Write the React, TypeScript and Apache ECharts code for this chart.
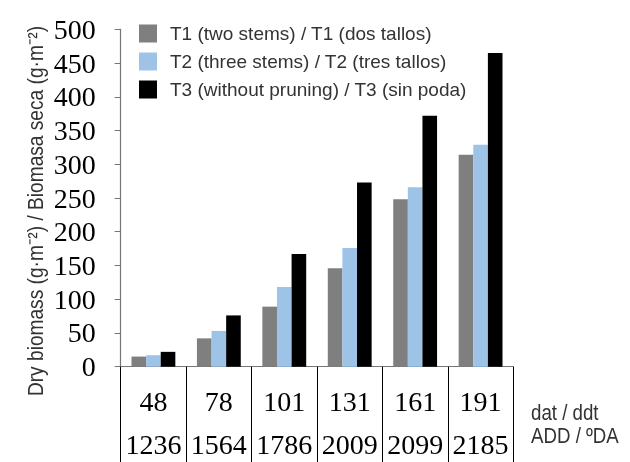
import * as echarts from "echarts";
import { useEffect, useRef } from "react";

const dat = ["48", "78", "101", "131", "161", "191"];
const add = ["1236", "1564", "1786", "2009", "2099", "2185"];

const t1 = [15, 42, 89, 146, 248, 314];
const t2 = [17, 53, 118, 176, 266, 329];
const t3 = [22, 76, 167, 273, 372, 465];

const seriesNames = [
    "T1 (two stems) / T1 (dos tallos)",
    "T2 (three stems) / T2 (tres tallos)",
    "T3 (without pruning) / T3 (sin poda)",
];

const sans = "'Liberation Sans', Arial, sans-serif";
const serif = "'Liberation Serif', 'Times New Roman', serif";

const App: React.FC = () => {
    const chartRef = useRef<HTMLDivElement>(null);

    useEffect(() => {
        const chart = echarts.init(chartRef.current!, null, { renderer: "svg" });

        const bar = (name: string, data: number[], color: string) => ({
            name,
            type: "bar",
            data,
            barGap: "0%",
            barCategoryGap: "33%",
            itemStyle: { color },
        });

        // narrow-looking text: squeeze along the reading direction
        const squeezed = (text: string, x: number, y: number, extra: object = {}, align = "left") => ({
            type: "text",
            x,
            y,
            scaleX: 0.85,
            ...extra,
            style: {
                text,
                fontFamily: sans,
                fontSize: 22,
                fill: "#333",
                align,
                verticalAlign: "middle",
            },
        });

        chart.setOption({
            animation: false,
            legend: {
                orient: "vertical",
                left: 134,
                top: 19,
                itemWidth: 18,
                itemHeight: 18,
                itemGap: 9,
                icon: "rect",
                selectedMode: false,
                data: seriesNames,
                textStyle: {
                    fontFamily: sans,
                    fontSize: 19,
                    color: "#333",
                    padding: [0, 0, 0, 8],
                },
            },
            grid: {
                left: 120.7,
                top: 29.3,
                width: 392.6,
                height: 337.4,
                containLabel: false,
                outerBoundsMode: "none",
            },
            xAxis: {
                type: "category",
                data: dat,
                axisLine: { lineStyle: { color: "#767676", width: 1.2 } },
                axisTick: { show: true, length: 100, lineStyle: { color: "#000" } },
                axisLabel: {
                    interval: 0,
                    formatter: (v: string, i: number) => `{a|${v}}\n{b|${add[i]}}`,
                    margin: 9,
                    rich: {
                        a: { fontFamily: serif, fontSize: 28, lineHeight: 52, color: "#000" },
                        b: { fontFamily: serif, fontSize: 28, lineHeight: 33, color: "#000" },
                    },
                },
            },
            yAxis: {
                type: "value",
                min: 0,
                max: 500,
                interval: 50,
                splitLine: { show: false },
                axisLine: { show: true, lineStyle: { color: "#767676", width: 1.2 } },
                axisTick: { show: true, length: 6, lineStyle: { color: "#767676" } },
                axisLabel: {
                    fontFamily: serif,
                    fontSize: 28,
                    margin: 25,
                    color: "#000",
                },
            },
            graphic: [
                squeezed(
                    "Dry biomass (g·m⁻²) / Biomasa seca (g·m⁻²)",
                    35,
                    211,
                    { rotation: Math.PI / 2, scaleX: 0.87 },
                    "center"
                ),
                squeezed("dat / ddt", 531, 412),
                squeezed("ADD / ºDA", 531, 435),
            ],
            series: [
                bar(seriesNames[0], t1, "#7f7f7f"),
                bar(seriesNames[1], t2, "#9dc3e6"),
                bar(seriesNames[2], t3, "#000000"),
            ],
        });

        return () => {
            chart.dispose();
        };
    }, []);

    return (
        <div
            ref={chartRef}
            style={{
                position: "fixed",
                left: 0,
                top: 0,
                width: "630px",
                height: "462px",
            }}
        />
    );
};

export default App;
